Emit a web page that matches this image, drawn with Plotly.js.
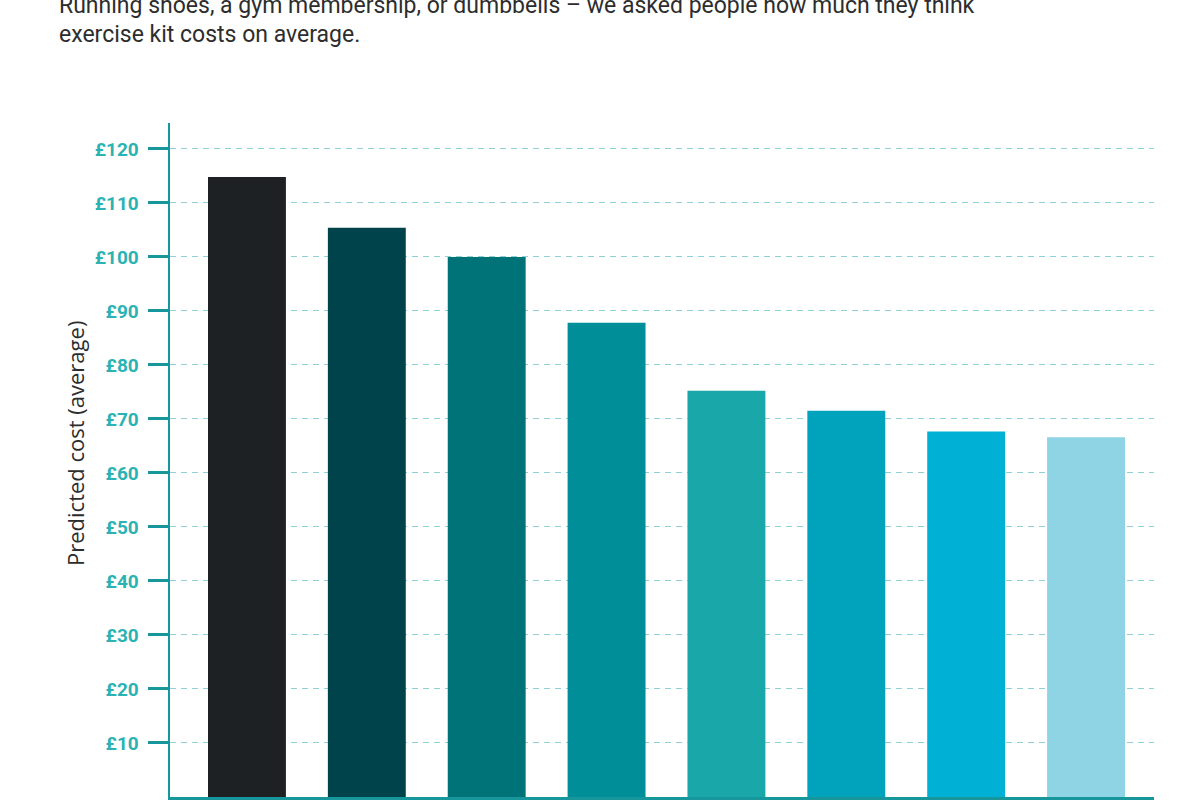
<!DOCTYPE html>
<html>
<head>
<meta charset="utf-8">
<script src="https://cdn.plot.ly/plotly-3.0.1.min.js"></script>
<style>
  html, body { margin: 0; padding: 0; background: #fff; }
  #chart { width: 1200px; height: 800px; }
</style>
</head>
<body>
<div id="chart"></div>
<script>
// Average predicted cost of each piece of exercise kit (GBP)
const kitItems = ['1', '2', '3', '4', '5', '6', '7', '8'];
const predictedCost = [114.8, 105.4, 100.0, 87.8, 75.2, 71.5, 67.7, 66.6];
const barColours = ['#1e2124', '#00434a', '#007378', '#008e98', '#19a7a9', '#00a3bb', '#00b0d5', '#8ed4e4'];

const tickValues = [10, 20, 30, 40, 50, 60, 70, 80, 90, 100, 110, 120];
const tickLabels = tickValues.map(v => '£' + v);

const subtitleLines = [
  'Running shoes, a gym membership, or dumbbells – we asked people how much they think',
  'exercise kit costs on average.'
];

const teal = '#17979c';
const bodyFont = 'Roboto, "Noto Sans", sans-serif';

const trace = {
  type: 'bar',
  x: kitItems.map((_, i) => i),
  y: predictedCost,
  marker: { color: barColours, line: { width: 0 } },
  width: 0.65,
  hoverinfo: 'y'
};

const layout = {
  width: 1200,
  height: 800,
  margin: { l: 170, r: 46, t: 123, b: 3 },
  paper_bgcolor: '#ffffff',
  plot_bgcolor: '#ffffff',
  showlegend: false,
  xaxis: {
    range: [-0.642, 7.567],
    showticklabels: false,
    ticks: '',
    showgrid: false,
    zeroline: false,
    showline: true,
    linecolor: teal,
    linewidth: 3
  },
  yaxis: {
    range: [0, 124.8],
    tickvals: tickValues,
    ticktext: tickLabels,
    ticks: 'outside',
    ticklen: 20,
    tickwidth: 3,
    tickcolor: teal,
    ticklabelstandoff: 5,
    tickfont: { family: bodyFont, size: 19, color: '#2bb3b4', weight: 'bold' },
    showgrid: true,
    gridcolor: '#8ed2d8',
    gridwidth: 1,
    griddash: '6px,5px',
    zeroline: false,
    showline: true,
    linecolor: teal,
    linewidth: 2.5
  },
  annotations: [
    {
      text: 'Predicted cost (average)',
      xref: 'paper', yref: 'paper',
      x: (75 - 170) / 984, y: (797 - 444) / 674,
      xanchor: 'center', yanchor: 'middle',
      textangle: -90,
      showarrow: false,
      font: { family: '"Open Sans", sans-serif', size: 22, color: '#2d2d2d' }
    },
    {
      text: subtitleLines[0],
      xref: 'paper', yref: 'paper',
      x: (57 - 170) / 984, y: (797 - 5) / 674,
      xanchor: 'left', yanchor: 'middle',
      showarrow: false,
      font: { family: bodyFont, size: 23, color: '#2d2d2d' }
    },
    {
      text: subtitleLines[1],
      xref: 'paper', yref: 'paper',
      x: (57 - 170) / 984, y: (797 - 34) / 674,
      xanchor: 'left', yanchor: 'middle',
      showarrow: false,
      font: { family: bodyFont, size: 23, color: '#2d2d2d' }
    }
  ]
};

Plotly.newPlot('chart', [trace], layout, { displayModeBar: false, staticPlot: true });
</script>
</body>
</html>
